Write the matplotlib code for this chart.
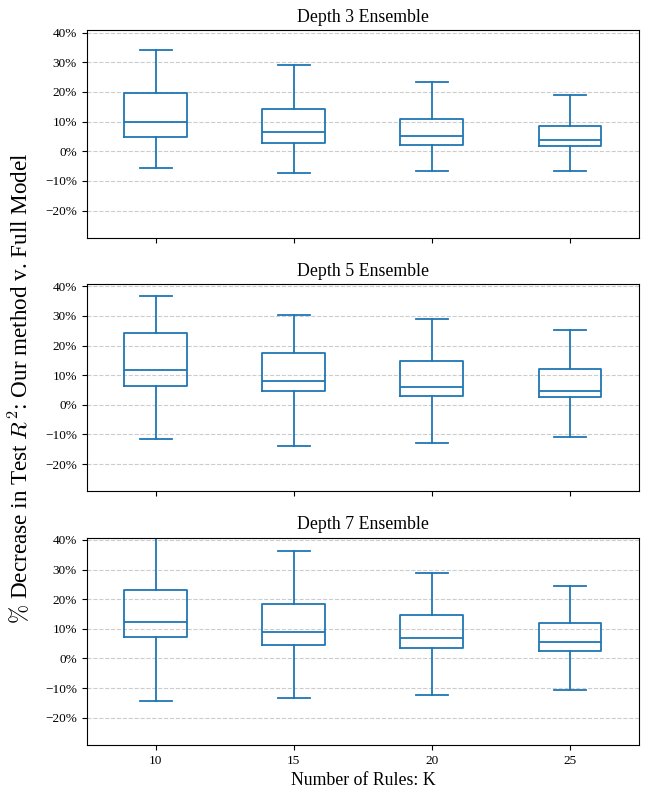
import matplotlib
matplotlib.use("Agg")
import matplotlib.pyplot as plt
from matplotlib.ticker import PercentFormatter

plt.rcParams['font.family'] = ['Liberation Serif', 'DejaVu Serif']
plt.rcParams['mathtext.fontset'] = 'cm'

# number of rules K
k_values = [10, 15, 20, 25]
depths = [3, 5, 7]

# box stats per depth, one entry per K: (whislo, q1, med, q3, whishi)
whislo = {3: [-0.058, -0.075, -0.067, -0.067],
          5: [-0.115, -0.138, -0.130, -0.110],
          7: [-0.142, -0.132, -0.122, -0.105]}
q1 = {3: [0.047, 0.028, 0.020, 0.016],
      5: [0.065, 0.046, 0.031, 0.025],
      7: [0.073, 0.045, 0.035, 0.025]}
med = {3: [0.100, 0.066, 0.050, 0.037],
       5: [0.118, 0.080, 0.061, 0.047],
       7: [0.124, 0.089, 0.068, 0.055]}
q3 = {3: [0.197, 0.143, 0.107, 0.086],
      5: [0.241, 0.175, 0.148, 0.122],
      7: [0.230, 0.185, 0.145, 0.118]}
whishi = {3: [0.340, 0.292, 0.233, 0.190],
          5: [0.366, 0.304, 0.288, 0.253],
          7: [0.408, 0.364, 0.287, 0.246]}

blue = '#1f77b4'

fig, axes = plt.subplots(3, 1, figsize=(6.48, 7.96), dpi=100, sharex=True)
fig.subplots_adjust(left=0.134, right=0.986, top=0.962, bottom=0.064, hspace=0.222)

for ax, d in zip(axes, depths):
    stats = []
    for i, k in enumerate(k_values):
        stats.append(dict(label=str(k), whislo=whislo[d][i], q1=q1[d][i], med=med[d][i],
                          q3=q3[d][i], whishi=whishi[d][i], fliers=[]))
    ax.bxp(stats, positions=range(len(k_values)), widths=0.455, showfliers=False,
           boxprops=dict(color=blue, linewidth=1.3),
           medianprops=dict(color=blue, linewidth=1.3),
           whiskerprops=dict(color=blue, linewidth=1.3),
           capprops=dict(color=blue, linewidth=1.3))
    ax.set_xlim(-0.5, 3.5)
    ax.set_ylim(-0.292, 0.408)
    ax.set_yticks([-0.2, -0.1, 0.0, 0.1, 0.2, 0.3, 0.4])
    ax.yaxis.set_major_formatter(PercentFormatter(1.0, decimals=0))
    ax.grid(axis='y', linestyle='--', color='#cccccc', linewidth=0.8)
    ax.set_axisbelow(True)
    ax.tick_params(labelsize=9.5)
    ax.set_title(f'Depth {d} Ensemble', fontsize=12.8)

axes[-1].set_xticks(range(len(k_values)))
axes[-1].set_xticklabels([str(k) for k in k_values])
axes[-1].set_xlabel('Number of Rules: K', fontsize=12.8)

fig.text(0.031, 0.513, r'$\%$ Decrease in Test $R^2$: Our method v. Full Model',
         rotation=90, va='center', ha='center', fontsize=16.7)

fig.savefig('out.png', dpi=100)
